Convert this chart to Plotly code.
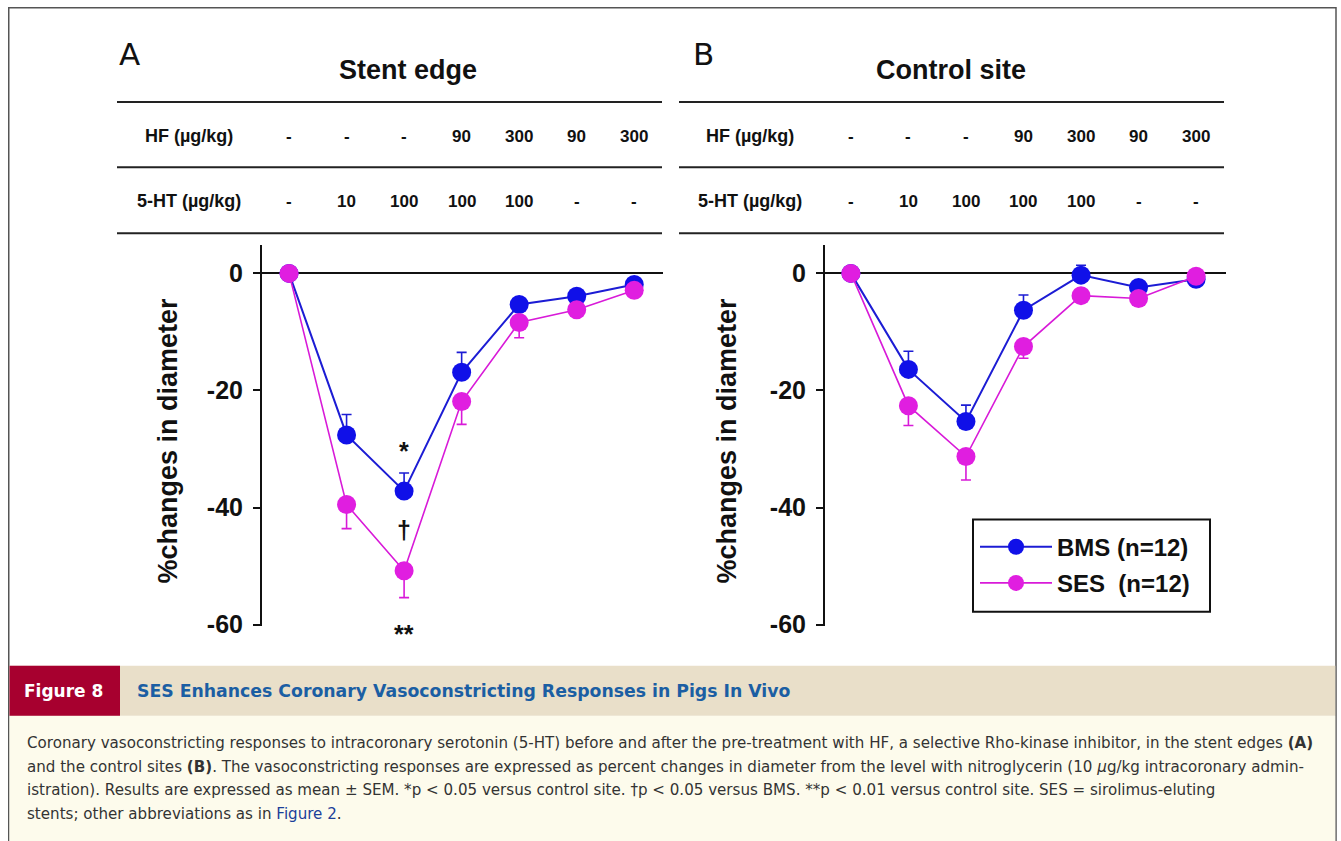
import plotly.graph_objects as go

# The page is photographed from a viewport about 855 px tall and scaled to 841 px,
# so the figure fills 1341x855 and positions are given as fractions of the 841-px picture.
W, H = 1341, 855
REF_H = 841

def px(x):
    return x / W

def py(y):
    return 1 - y / REF_H

# ---------------- data ----------------
positions = [0, 1, 2, 3, 4, 5, 6]
hf_doses = ["-", "-", "-", "90", "300", "90", "300"]
ht_doses = ["-", "10", "100", "100", "100", "-", "-"]

bms_a = [0, -27.6, -37.2, -16.9, -5.3, -3.9, -1.9]
bms_a_sem = [0, 3.5, 3.1, 3.4, 0.8, 0.6, 0.6]
ses_a = [0, -39.5, -50.8, -21.9, -8.4, -6.2, -2.9]
ses_a_sem = [0, 4.1, 4.6, 3.9, 2.6, 0.8, 0.6]

bms_b = [0, -16.4, -25.3, -6.3, -0.3, -2.4, -1.0]
bms_b_sem = [0, 3.1, 2.8, 2.6, 1.7, 0.6, 0.4]
ses_b = [0, -22.6, -31.3, -12.5, -3.8, -4.3, -0.5]
ses_b_sem = [0, 3.4, 4.0, 2.0, 0.7, 0.7, 0.3]

y_ticks = [0, -20, -40, -60]
sig_labels = ["*", "†", "**"]
sig_y = [-30.3, -43.9, -61.6]
sig_x = [2, 2, 2]

BLUE_LINE = "#1c1cd4"
BLUE_MK = "#1010e8"
MAG_LINE = "#d81ad8"
MAG_MK = "#e01ee0"

FONT = "Liberation Sans, Arial, sans-serif"
CAPFONT = "DejaVu Sans, sans-serif"

fig = go.Figure()

def add_series(xa, ya, yvals, sem, name, line_c, mk_c, upper, lw, show):
    fig.add_trace(go.Scatter(
        x=positions, y=yvals, mode="lines+markers", name=name,
        xaxis=xa, yaxis=ya, showlegend=show, legendgroup=name,
        line=dict(color=line_c, width=lw),
        marker=dict(color=mk_c, size=19),
        error_y=dict(type="data", symmetric=False,
                     array=sem if upper else [0] * len(sem),
                     arrayminus=[0] * len(sem) if upper else sem,
                     color=line_c, thickness=1.6, width=5),
        cliponaxis=False,
    ))

add_series("x", "y", bms_a, bms_a_sem, "BMS (n=12)", BLUE_LINE, BLUE_MK, True, 2, False)
add_series("x", "y", ses_a, ses_a_sem, "SES  (n=12)", MAG_LINE, MAG_MK, False, 1.6, False)
add_series("x2", "y2", bms_b, bms_b_sem, "BMS (n=12)", BLUE_LINE, BLUE_MK, True, 2, True)
add_series("x2", "y2", ses_b, ses_b_sem, "SES  (n=12)", MAG_LINE, MAG_MK, False, 1.6, True)

ydom = [py(625), py(245)]
yr = [-60.2, 4.8]
yaxis_common = dict(
    range=yr, domain=ydom, showgrid=False, zeroline=True, zerolinecolor="#111",
    zerolinewidth=1.6, showline=True, linecolor="#111", linewidth=2,
    ticks="outside", ticklen=7, tickwidth=2, tickcolor="#111", ticklabelstandoff=5,
    tickvals=y_ticks, ticktext=[str(v) for v in y_ticks],
    tickfont=dict(family=FONT, size=25, color="#111", weight="bold"),
)

fig.update_layout(
    width=W, height=H,
    margin=dict(l=0, r=0, t=0, b=0),
    paper_bgcolor="white", plot_bgcolor="rgba(0,0,0,0)",
    xaxis=dict(domain=[px(262), px(663)], range=[-0.47, 6.5], visible=False, anchor="y"),
    xaxis2=dict(domain=[px(825), px(1226)], range=[-0.45, 6.52], visible=False, anchor="y2"),
    yaxis=dict(anchor="x", **yaxis_common),
    yaxis2=dict(anchor="x2", **yaxis_common),
    legend=dict(x=px(975), y=py(524), xanchor="left", yanchor="top",
                borderwidth=0, bgcolor="rgba(0,0,0,0)",
                font=dict(family=FONT, size=24, color="#111", weight="bold"),
                tracegroupgap=2, itemwidth=72),
    showlegend=True,
)

shapes = []
# outer frame
shapes.append(dict(type="rect", xref="paper", yref="paper", x0=px(8.75), x1=px(1336), y0=py(860), y1=py(7.75),
                   line=dict(color="#555", width=1.5), fillcolor="rgba(0,0,0,0)", layer="below"))
# table lines
for (x0, x1) in [(117, 662), (679, 1224)]:
    for yy in [102, 167, 233]:
        shapes.append(dict(type="line", xref="paper", yref="paper", x0=px(x0), x1=px(x1), y0=py(yy), y1=py(yy),
                           line=dict(color="#222", width=2)))
# legend frame
shapes.append(dict(type="rect", xref="paper", yref="paper", x0=px(973), x1=px(1210), y0=py(611), y1=py(519),
                   line=dict(color="#111", width=2), fillcolor="white", layer="above"))
# banner
shapes.append(dict(type="rect", xref="paper", yref="paper", x0=px(9.5), x1=px(1335.3), y0=py(860), y1=py(715),
                   line=dict(width=0), fillcolor="#fdfbec"))
shapes.append(dict(type="rect", xref="paper", yref="paper", x0=px(9.5), x1=px(1335.3), y0=py(715), y1=py(665),
                   line=dict(width=0), fillcolor="#e9dfc9"))
shapes.append(dict(type="rect", xref="paper", yref="paper", x0=px(9.5), x1=px(120), y0=py(715), y1=py(665),
                   line=dict(width=0), fillcolor="#a7002f"))
fig.update_layout(shapes=shapes)

ann = []

def txt(text, x, y, size, color="#111", weight="bold", family=FONT, xanchor="center", **kw):
    ann.append(dict(text=text, x=px(x), y=py(y), xref="paper", yref="paper", showarrow=False,
                    xanchor=xanchor, yanchor="middle",
                    font=dict(family=family, size=size, color=color, weight=weight), **kw))

# panel letters and titles
txt("A", 129, 54, 31, weight="normal", family="DejaVu Sans, sans-serif")
txt("B", 703, 54, 31, weight="normal", family="DejaVu Sans, sans-serif")
txt("Stent edge", 408, 70, 27)
txt("Control site", 951, 70, 27)

row_font = dict(family=FONT, size=17, color="#111", weight="bold")
for xr, lab_x in [("x", 189), ("x2", 750)]:
    txt("HF (µg/kg)", lab_x, 136, 18)
    txt("5-HT (µg/kg)", lab_x, 201, 18)
    for p, h, t in zip(positions, hf_doses, ht_doses):
        ann.append(dict(text=h, x=p, y=py(136), xref=xr, yref="paper", showarrow=False,
                        xanchor="center", yanchor="middle", font=row_font))
        ann.append(dict(text=t, x=p, y=py(201), xref=xr, yref="paper", showarrow=False,
                        xanchor="center", yanchor="middle", font=row_font))

# y-axis titles
for xx in [168, 727]:
    txt("%changes in diameter", xx, 440, 27, textangle=-90)

# significance marks (positioned through the y axis scale, as fraction of its domain)
for lab, sx, sy in zip(sig_labels, sig_x, sig_y):
    ann.append(dict(text=lab, x=sx, y=(sy - yr[0]) / (yr[1] - yr[0]), xref="x", yref="y domain",
                    showarrow=False, xanchor="center", yanchor="middle",
                    font=dict(family=FONT, size=25, color="#111", weight="bold")))

# banner texts
txt("Figure 8", 64, 690, 17, color="white", family=CAPFONT)
txt("SES Enhances Coronary Vasoconstricting Responses in Pigs In Vivo", 135, 690, 17.3,
    color="#1b5ea3", family=CAPFONT, xanchor="left")

caption_lines = [
    "Coronary vasoconstricting responses to intracoronary serotonin (5-HT) before and after the pre-treatment with HF, a selective Rho-kinase inhibitor, in the stent edges <b>(A)</b>",
    "and the control sites <b>(B)</b>. The vasoconstricting responses are expressed as percent changes in diameter from the level with nitroglycerin (10 <i>μ</i>g/kg intracoronary admin-",
    "istration). Results are expressed as mean ± SEM. *p &lt; 0.05 versus control site. †p &lt; 0.05 versus BMS. **p &lt; 0.01 versus control site. SES = sirolimus-eluting",
    "stents; other abbreviations as in <span style='color:#1b3f9a'>Figure 2</span>.",
]
cap_y = [742, 766, 789, 813]
for line, yy in zip(caption_lines, cap_y):
    txt(line, 25, yy, 15.1, color="#333", weight="normal", family=CAPFONT, xanchor="left")

fig.update_layout(annotations=ann)

fig.write_html(
    "out.html",
    config={"displayModeBar": False},
    post_script=(
        "document.body.style.margin='0';"
        "document.body.style.overflow='hidden';"
        "var d=document.getElementById('{plot_id}');"
        "d.style.position='fixed';d.style.top='0';d.style.left='0';"
    ),
)
